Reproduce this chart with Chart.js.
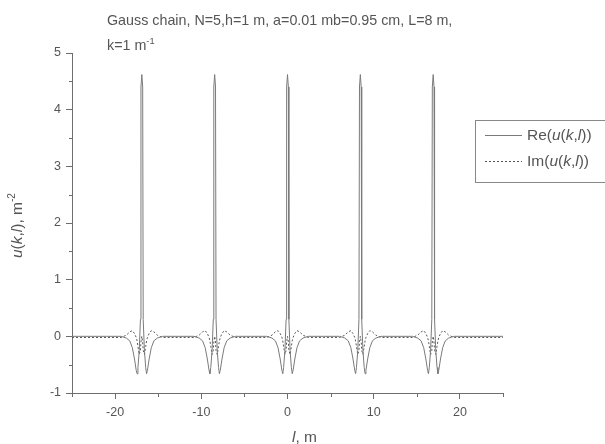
<!DOCTYPE html>
<html>
<head>
<meta charset="utf-8">
<script src="https://cdn.jsdelivr.net/npm/chart.js@4"></script>
<style>
  html, body { margin: 0; padding: 0; background: #fff; }
  #wrap { width: 605px; height: 444px; }
</style>
</head>
<body>
<div id="wrap"><canvas id="chart" width="605" height="444"></canvas></div>
<script>
// Gauss chain: Re and Im of u(k,l) along l

// peak positions along l, m
const peakCenters = [-16.9, -8.45, 0, 8.45, 16.9];
// offsets around each peak, m
const peakOffsets = [-2.4, -1.8, -1.4, -1.1, -0.85, -0.65, -0.55, -0.45, -0.3, -0.16, -0.1, 0,
                     0.1, 0.16, 0.3, 0.45, 0.55, 0.65, 0.85, 1.1, 1.4, 1.8, 2.4];
const rePeak = [0, -0.03, -0.08, -0.2, -0.4, -0.6, -0.66, -0.55, -0.25, 0.3, 4.4, 4.62,
                4.4, 0.3, -0.25, -0.55, -0.66, -0.6, -0.4, -0.2, -0.08, -0.03, 0];
const imPeak = [-0.02, 0.02, 0.08, 0.1, 0.05, -0.02, -0.08, -0.18, -0.32, -0.25, -0.1, 0,
                -0.1, -0.25, -0.32, -0.18, -0.08, -0.02, 0.05, 0.1, 0.08, 0.02, -0.02];
// flat stretches between the peaks
const baseL = [-25, -21, -12.7, -4.2, 4.2, 12.7, 21, 25];
const baseRe = [0, 0, 0, 0, 0, 0, 0, 0];
const baseIm = [-0.02, -0.02, -0.02, -0.02, -0.02, -0.02, -0.02, -0.02];

const xTicks = [-20, -10, 0, 10, 20];
const yTicks = [-1, 0, 1, 2, 3, 4, 5];

function buildSeries(peakVals, baseVals) {
    const pts = [];
    baseL.forEach((l, i) => pts.push({ x: l, y: baseVals[i] }));
    peakCenters.forEach(c => {
        peakOffsets.forEach((d, i) => pts.push({ x: Math.round((c + d) * 100) / 100, y: peakVals[i] }));
    });
    return pts.sort((a, b) => a.x - b.x);
}

const AXIS = '#6e6e6e';
const TEXT = '#555';
const FONT = '"Liberation Sans", Arial, sans-serif';

// text with italic pieces, e.g. Re(u(k,l))
function drawRich(ctx, parts, x, y, size) {
    let cx = x;
    parts.forEach(p => {
        ctx.font = (p.it ? 'italic ' : '') + (p.sup ? size * 0.65 : size) + 'px ' + FONT;
        ctx.fillText(p.t, cx, p.sup ? y - size * 0.45 : y);
        cx += ctx.measureText(p.t).width;
    });
    return cx;
}

const decorations = {
    id: 'decorations',
    afterDraw(chart) {
        const ctx = chart.ctx;
        const xs = chart.scales.x, ys = chart.scales.y;
        ctx.save();
        ctx.strokeStyle = AXIS;
        ctx.lineWidth = 1;

        // minor ticks halfway between the labelled ones
        ctx.beginPath();
        [-25, -15, -5, 5, 15, 25].forEach(v => {
            const px = Math.round(xs.getPixelForValue(v)) + 0.5;
            ctx.moveTo(px, ys.bottom);
            ctx.lineTo(px, ys.bottom + 4);
        });
        [-0.5, 0.5, 1.5, 2.5, 3.5, 4.5].forEach(v => {
            const py = Math.round(ys.getPixelForValue(v)) + 0.5;
            ctx.moveTo(xs.left, py);
            ctx.lineTo(xs.left - 3, py);
        });
        ctx.stroke();

        ctx.fillStyle = TEXT;
        ctx.textBaseline = 'alphabetic';
        ctx.textAlign = 'left';

        // heading, two lines
        drawRich(ctx, [{ t: 'Gauss chain, N=5,h=1 m, a=0.01 mb=0.95 cm, L=8 m,' }], 107, 25, 14.3);
        drawRich(ctx, [{ t: 'k=1 m' }, { t: '-1', sup: true }], 107, 50, 14.3);

        // x title
        drawRich(ctx, [{ t: 'l', it: true }, { t: ', m' }], 292, 442, 15.5);

        // y title, rotated
        ctx.save();
        ctx.translate(22, 258);
        ctx.rotate(-Math.PI / 2);
        drawRich(ctx, [{ t: 'u', it: true }, { t: '(' }, { t: 'k', it: true }, { t: ',' },
                       { t: 'l', it: true }, { t: '), m' }, { t: '-2', sup: true }], 0, 0, 15.5);
        ctx.restore();

        // legend box
        ctx.strokeStyle = '#888';
        ctx.strokeRect(475.5, 120.5, 140, 62);
        const rows = [
            { y: 135, dash: [] },
            { y: 161, dash: [2, 2] }
        ];
        rows.forEach((r, i) => {
            const ds = chart.data.datasets[i];
            ctx.strokeStyle = ds.borderColor;
            ctx.setLineDash(r.dash);
            ctx.beginPath();
            ctx.moveTo(485, r.y + 0.5);
            ctx.lineTo(522, r.y + 0.5);
            ctx.stroke();
            ctx.setLineDash([]);
            ctx.fillStyle = TEXT;
            drawRich(ctx, [{ t: i === 0 ? 'Re(' : 'Im(' }, { t: 'u', it: true }, { t: '(' },
                           { t: 'k', it: true }, { t: ',' }, { t: 'l', it: true }, { t: '))' }],
                     527, r.y + 5, 15.5);
        });
        ctx.restore();
    }
};

new Chart(document.getElementById('chart'), {
    type: 'scatter',
    data: {
        datasets: [
            {
                label: 'Re(u(k,l))',
                data: buildSeries(rePeak, baseRe),
                showLine: true,
                borderColor: '#7a7a7a',
                borderWidth: 1,
                pointRadius: 0,
                tension: 0
            },
            {
                label: 'Im(u(k,l))',
                data: buildSeries(imPeak, baseIm),
                showLine: true,
                borderColor: '#555',
                borderWidth: 1,
                borderDash: [2, 2],
                pointRadius: 0,
                tension: 0
            }
        ]
    },
    options: {
        responsive: false,
        animation: false,
        layout: { padding: { top: 53, right: 102, left: 0, bottom: 0 } },
        plugins: { legend: { display: false }, tooltip: { enabled: false } },
        scales: {
            x: {
                type: 'linear',
                min: -25,
                max: 25,
                afterBuildTicks(scale) { scale.ticks = xTicks.map(v => ({ value: v })); },
                afterFit(scale) { scale.height = 51; },
                grid: { drawOnChartArea: false, drawTicks: true, tickLength: 6, color: AXIS },
                border: { display: true, color: AXIS, width: 1 },
                ticks: {
                    color: TEXT,
                    padding: 6,
                    font: { family: FONT, size: 12.5 }
                }
            },
            y: {
                type: 'linear',
                min: -1,
                max: 5,
                afterBuildTicks(scale) { scale.ticks = yTicks.map(v => ({ value: v })); },
                afterFit(scale) { scale.width = 72; },
                grid: { drawOnChartArea: false, drawTicks: true, tickLength: 6, color: AXIS },
                border: { display: true, color: AXIS, width: 1 },
                ticks: {
                    color: TEXT,
                    padding: 5,
                    font: { family: FONT, size: 12.5 }
                }
            }
        }
    },
    plugins: [decorations]
});
</script>
</body>
</html>
